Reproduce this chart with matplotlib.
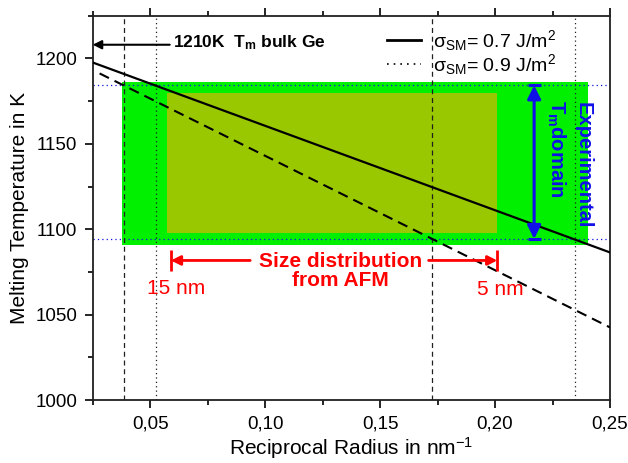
import matplotlib
matplotlib.use("Agg")
import matplotlib.pyplot as plt
from matplotlib.lines import Line2D
from matplotlib.ticker import MultipleLocator, FuncFormatter

plt.rcParams['font.family'] = ['Liberation Sans', 'DejaVu Sans']
plt.rcParams['mathtext.fontset'] = 'custom'
plt.rcParams['mathtext.rm'] = 'Liberation Sans'
plt.rcParams['mathtext.it'] = 'Liberation Sans:italic'
plt.rcParams['mathtext.bf'] = 'Liberation Sans:bold'

# ---- data ----
solid_x = [0.025, 0.25]          # sigma_SM = 0.7 J/m^2
solid_T = [1197.6, 1086.4]
dashed_x = [0.028, 0.25]         # sigma_SM = 0.9 J/m^2
dashed_T = [1191.2, 1042.5]

domain_T = [1094.3, 1184.2]      # experimental Tm domain (blue dotted)
green_x = [0.0376, 0.2405]
green_T = [1090.8, 1186.1]
olive_x = [0.0572, 0.201]
olive_T = [1097.7, 1179.5]

vdashed_x = [0.0388, 0.1727]
vdotted_x = [0.0524, 0.2347]

afm_range = [0.059, 0.201]       # size distribution from AFM
afm_text_x = [0.0935, 0.1711]
afm_T = 1081.7
afm_labels = ["15 nm", "5 nm"]

bulk_T = 1208.0
arrow_x = 0.217

legend_labels = [r"σ$_{\mathrm{SM}}$= 0.7 J/m$^2$", r"σ$_{\mathrm{SM}}$= 0.9 J/m$^2$"]

fig = plt.figure(figsize=(6.28, 4.63), dpi=100)
ax = fig.add_axes([92.7/628, 1-400/463, (610-92.7)/628, (400-15.7)/463])
ax.set_xlim(0.025, 0.25)
ax.set_ylim(1000, 1225)

green = '#00f000'
olive = '#99c800'
blue = '#1010e8'
red = '#ff0000'

ax.fill_between(green_x, green_T[0], green_T[1], color=green, lw=0, zorder=1)
ax.fill_between(olive_x, olive_T[0], olive_T[1], color=olive, lw=0, zorder=1.5)

for t in domain_T:
    ax.axhline(t, color=blue, lw=0.9, ls=(0, (1, 2.5)), zorder=2)
for x in vdashed_x:
    ax.axvline(x, color='#202020', lw=0.9, ls=(0, (4, 3)), zorder=2)
for x in vdotted_x:
    ax.axvline(x, color='#202020', lw=0.9, ls=(0, (1, 2.5)), zorder=2)

ax.plot(solid_x, solid_T, color='black', lw=1.6, zorder=3)
ax.plot(dashed_x, dashed_T, color='black', lw=1.5, ls=(0, (5, 3)), zorder=3)

# blue double arrow
ax.annotate('', xy=(arrow_x, domain_T[1]), xytext=(arrow_x, domain_T[0]),
            arrowprops=dict(arrowstyle='<|-|>', color=blue, lw=2.2,
                            mutation_scale=20, shrinkA=0, shrinkB=0), zorder=4)
for t in domain_T:
    ax.plot([arrow_x - 0.0028, arrow_x + 0.0028], [t, t], color=blue, lw=2.2,
            solid_capstyle='butt', zorder=4)

ax.text(0.2385, 1137.5, "Experimental", rotation=270, color=blue, fontsize=14.5,
        fontweight='bold', ha='center', va='center', zorder=5)
ax.text(0.2265, 1147, r"T$_{\mathbf{m}}$domain", rotation=270, color=blue,
        fontsize=14.5, fontweight='bold', ha='center', va='center', zorder=5)

# red AFM arrows
ax.annotate('', xy=(afm_range[0], afm_T), xytext=(afm_text_x[0], afm_T),
            arrowprops=dict(arrowstyle='-|>', color=red, lw=2.0,
                            mutation_scale=14, shrinkA=0, shrinkB=0), zorder=5)
ax.annotate('', xy=(afm_range[1], afm_T), xytext=(afm_text_x[1], afm_T),
            arrowprops=dict(arrowstyle='-|>', color=red, lw=2.0,
                            mutation_scale=14, shrinkA=0, shrinkB=0), zorder=5)
for x in afm_range:
    ax.plot([x, x], [afm_T - 6, afm_T + 6], color=red, lw=2.0,
            solid_capstyle='butt', zorder=5)
ax.text(0.1328, 1075.5, "Size distribution\nfrom AFM", color=red, fontsize=15,
        fontweight='bold', ha='center', va='center', linespacing=1.05, zorder=5)
ax.text(0.0615, 1065.5, afm_labels[0], color=red, fontsize=15, ha='center',
        va='center', zorder=5)
ax.text(0.2021, 1064.5, afm_labels[1], color=red, fontsize=15, ha='center',
        va='center', zorder=5)

# bulk Tm arrow
ax.annotate('', xy=(0.025, bulk_T), xytext=(0.0585, bulk_T),
            arrowprops=dict(arrowstyle='-|>', color='black', lw=1.5,
                            mutation_scale=13, shrinkA=0, shrinkB=0), zorder=5)
ax.text(0.0599, 1209.4, r"1210K  T$_{\mathbf{m}}$ bulk Ge", fontsize=12.5,
        fontweight='bold', ha='left', va='center', zorder=5)

# legend
handles = [Line2D([], [], color='black', lw=2.0),
           Line2D([], [], color='black', lw=1.2, ls=(0, (1, 3)))]
leg = ax.legend(handles, legend_labels, loc='upper left', frameon=False,
                fontsize=14, handlelength=1.75, handletextpad=0.6,
                labelspacing=-0.05, borderaxespad=0, borderpad=0,
                bbox_to_anchor=(387/628, 1-28/463), bbox_transform=fig.transFigure)

# axes styling
ax.xaxis.set_major_locator(MultipleLocator(0.05))
ax.xaxis.set_minor_locator(MultipleLocator(0.025))
ax.yaxis.set_major_locator(MultipleLocator(50))
ax.yaxis.set_minor_locator(MultipleLocator(25))
ax.xaxis.set_major_formatter(FuncFormatter(lambda v, p: f"{v:.2f}".replace('.', ',')))
ax.tick_params(axis='both', which='major', direction='out', length=6, width=1.2,
               labelsize=13.5, top=True, right=False, pad=5)
ax.tick_params(axis='both', which='minor', direction='out', length=3.5, width=1.2,
               top=True, right=False)
for s in ax.spines.values():
    s.set_linewidth(1.3)
    s.set_color('#202020')

ax.set_xlabel(r"Reciprocal Radius in nm$^{-1}$", fontsize=15, labelpad=2)
ax.set_ylabel("Melting Temperature in K", fontsize=15, labelpad=5)

fig.savefig("out.png", dpi=100)
